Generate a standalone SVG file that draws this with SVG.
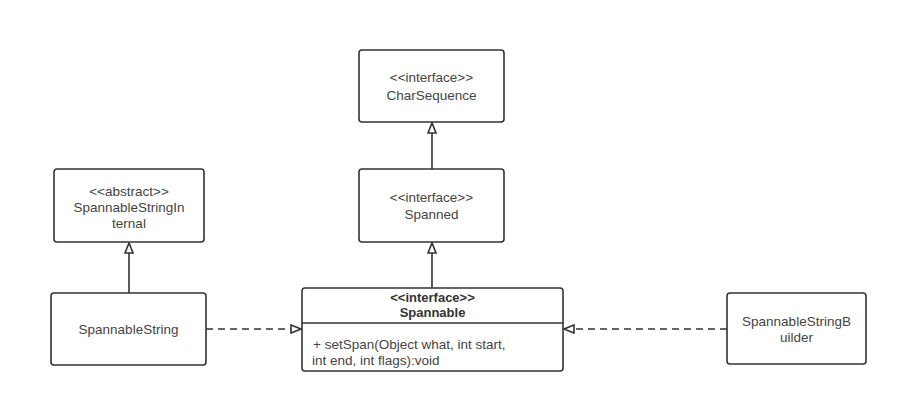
<svg xmlns="http://www.w3.org/2000/svg" width="900" height="404" viewBox="0 0 900 404">
<style>
.box{fill:#fff;stroke:#333;stroke-width:1.6}
.t{font-family:"Liberation Sans",Arial,sans-serif;font-size:13.5px;fill:#444;text-anchor:middle}
.b{font-weight:bold;fill:#333;font-size:13px}
.l{text-anchor:start}
.edge{fill:none;stroke:#333;stroke-width:1.6}
.dash{stroke-dasharray:7 5}
</style>
<defs>
<marker id="tri" viewBox="0 0 12 10" refX="11" refY="5" markerWidth="12" markerHeight="10" markerUnits="userSpaceOnUse" orient="auto">
<path d="M1,1 L11,5 L1,9 Z" fill="#fff" stroke="#333" stroke-width="1.6"/>
</marker>
</defs>
<rect width="900" height="404" fill="#fff"/>
<g id="connectors">
<line class="edge" x1="432" y1="169" x2="432" y2="123" marker-end="url(#tri)"/>
<line class="edge" x1="432" y1="288" x2="432" y2="243" marker-end="url(#tri)"/>
<line class="edge" x1="129" y1="293" x2="129" y2="243" marker-end="url(#tri)"/>
<line class="edge dash" x1="206" y1="329" x2="301" y2="329" marker-end="url(#tri)"/>
<line class="edge dash" x1="727" y1="329" x2="564" y2="329" marker-end="url(#tri)"/>
</g>
<g id="CharSequence">
<rect class="box" x="359" y="50" width="145" height="72" rx="3"/>
<text class="t" x="431.5" y="82">&lt;&lt;interface&gt;&gt;</text>
<text class="t" x="431.5" y="100">CharSequence</text>
</g>
<g id="Spanned">
<rect class="box" x="359" y="169" width="145" height="73" rx="3"/>
<text class="t" x="431.5" y="202">&lt;&lt;interface&gt;&gt;</text>
<text class="t" x="431.5" y="219">Spanned</text>
</g>
<g id="SpannableStringInternal">
<rect class="box" x="54" y="169" width="150" height="73" rx="3"/>
<text class="t" x="129" y="196">&lt;&lt;abstract&gt;&gt;</text>
<text class="t" x="129" y="212">SpannableStringIn</text>
<text class="t" x="129" y="228">ternal</text>
</g>
<g id="SpannableString">
<rect class="box" x="51" y="293" width="155" height="72" rx="3"/>
<text class="t" x="128.5" y="334">SpannableString</text>
</g>
<g id="Spannable">
<rect class="box" x="302" y="288" width="261" height="83" rx="3"/>
<line class="edge" x1="302" y1="323" x2="563" y2="323"/>
<text class="t b" x="432.5" y="302">&lt;&lt;interface&gt;&gt;</text>
<text class="t b" x="432.5" y="317">Spannable</text>
<text class="t l" x="313" y="348.5">+ setSpan(Object what, int start,</text>
<text class="t l" x="312" y="364.5">int end, int flags):void</text>
</g>
<g id="SpannableStringBuilder">
<rect class="box" x="727" y="293" width="139" height="71" rx="3"/>
<text class="t" x="796.5" y="326">SpannableStringB</text>
<text class="t" x="796.5" y="342">uilder</text>
</g>
</svg>
